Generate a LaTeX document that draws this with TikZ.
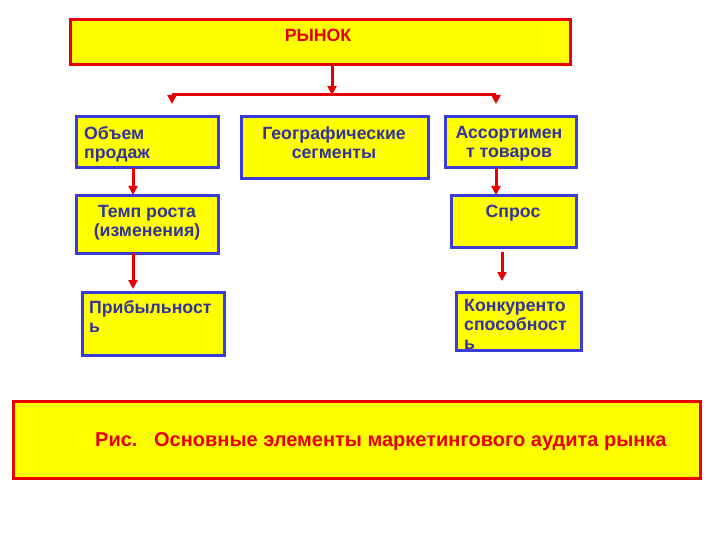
\documentclass[tikz,border=0pt]{standalone}
\usepackage{fontspec}
\setmainfont{Liberation Sans}
\usetikzlibrary{arrows.meta, positioning}
\definecolor{boxyellow}{HTML}{FFFF00}
\definecolor{linered}{HTML}{E60000}
\definecolor{frameblue}{HTML}{3B3BD6}
\definecolor{textblue}{HTML}{333399}

\begin{document}
\begin{tikzpicture}[
    x=1pt, y=-1pt,
    every node/.style={font=\fontsize{17.7}{19.3}\selectfont\bfseries},
    redbox/.style={draw=linered, fill=boxyellow, line width=3pt, anchor=north west, inner sep=0pt, outer sep=0pt},
    bluebox/.style={draw=frameblue, fill=boxyellow, line width=3pt, anchor=north west, inner sep=0pt, outer sep=0pt},
    boxtext/.style={text=textblue, inner sep=0pt, align=center},
    arrow/.style={-{Triangle[length=9pt, width=9pt]}, line width=3pt, linered}
]
    \useasboundingbox (0,0) rectangle (720,540);

    % top level
    \node[redbox, minimum width=500pt, minimum height=45pt] (rynok) at (70,20) {};
    \node[text=linered, inner sep=0pt, anchor=base] (rynok-t) at (318,42) {РЫНОК};

    % first row
    \node[bluebox, minimum width=142pt, minimum height=51pt] (obem) at (76,117) {};
    \node[bluebox, minimum width=187pt, minimum height=62pt] (geo) at (241,117) {};
    \node[bluebox, minimum width=131pt, minimum height=51pt] (assort) at (445,117) {};
    \node[boxtext, align=left, anchor=north west] (obem-t) at (84,126) {Объем\\продаж};
    \node[boxtext, anchor=north] (geo-t) at (334,126) {Географические\\сегменты};
    \node[boxtext, anchor=north] (assort-t) at (509,126) {Ассортимен\\т товаров};

    % second row
    \node[bluebox, minimum width=142pt, minimum height=57pt] (temp) at (76,196) {};
    \node[bluebox, minimum width=125pt, minimum height=51pt] (spros) at (451,196) {};
    \node[boxtext, anchor=north] (temp-t) at (147,205) {Темп роста\\(изменения)};
    \node[boxtext, anchor=north] (spros-t) at (513,205) {Спрос};

    % third row
    \node[bluebox, minimum width=142pt, minimum height=63pt] (prib) at (82,292) {};
    \node[bluebox, minimum width=125pt, minimum height=58pt] (konk) at (456,292) {};
    \node[boxtext, align=left, anchor=north west] (prib-t) at (89,300) {Прибыльност\\ь};
    \node[boxtext, align=left, anchor=north west] (konk-t) at (464,299) {Конкуренто\\способност\\ь};

    % caption
    \node[redbox, minimum width=687pt, minimum height=77pt] (caption) at (13,401) {};
    \node[text=linered, inner sep=0pt, anchor=base west, font=\fontsize{20}{24}\selectfont\bfseries] (caption-t) at (95,446) {Рис.\ \ \ Основные элементы маркетингового аудита рынка};

    % split under the top box
    \coordinate (split) at (332,95);
    \coordinate (split-l) at (172,95);
    \coordinate (split-r) at (496,95);
    \coordinate (split-l-end) at (172,104);
    \coordinate (split-r-end) at (496,104);
    \draw[arrow] ([xshift=12pt]rynok.south) -- (split);
    \draw[linered, line width=3pt] (split-l) -- (split-r);
    \draw[arrow] (split-l) -- (split-l-end);
    \draw[arrow] (split-r) -- (split-r-end);

    % chains
    \draw[arrow] ([xshift=-14pt]obem.south) -- ([xshift=-14pt, yshift=1pt]temp.north);
    \draw[arrow] ([xshift=-14pt]temp.south) -- ([xshift=-20pt, yshift=3pt]prib.north);
    \draw[arrow] ([xshift=-14.5pt]assort.south) -- ([xshift=-17.5pt, yshift=1pt]spros.north);
    \coordinate (spros-out) at (502,252);
    \coordinate (konk-in) at (502,281);
    \draw[arrow] (spros-out) -- (konk-in);
\end{tikzpicture}
\end{document}
